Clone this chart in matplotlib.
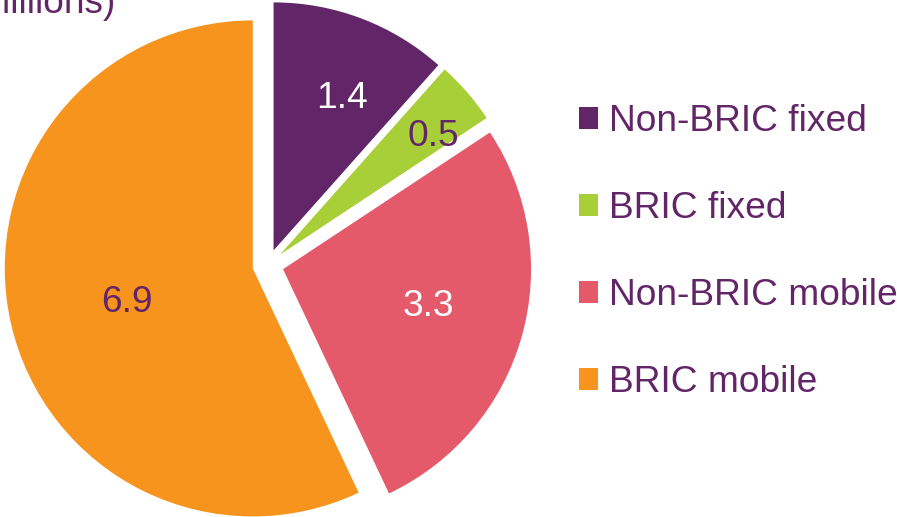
import matplotlib
matplotlib.use("Agg")
import matplotlib.pyplot as plt
import numpy as np

categories = ["Non-BRIC fixed", "BRIC fixed", "Non-BRIC mobile", "BRIC mobile"]
values = [1.4, 0.5, 3.3, 6.9]
value_labels = ["1.4", "0.5", "3.3", "6.9"]
colors = ["#622567", "#A8CE38", "#E55A6A", "#F7941D"]
label_colors = ["white", "#622567", "white", "#622567"]
title = "(millions)"

TXT = "#622567"
plt.rcParams["font.family"] = ["Liberation Sans", "DejaVu Sans"]

W, H = 897, 517
fig = plt.figure(figsize=(W / 100, H / 100), dpi=100)
ax = fig.add_axes([0, 0, 1, 1])
ax.set_axis_off()

R = 248.0
cx, cy = 268.0, 265.0
EXP = 0.063

wedges, texts = ax.pie(values, colors=colors, startangle=90, counterclock=False,
                       explode=[EXP] * 4, radius=1.0, center=(0, 0),
                       labels=value_labels, labeldistance=None,
                       wedgeprops=dict(linewidth=0))
ax.set_aspect("auto")
ax.set_xlim(-cx / R, (W - cx) / R)
ax.set_ylim(-(H - cy) / R, cy / R)

# value labels (radius from centre, angular nudge in degrees)
label_r = [0.735, 0.845, 0.67, 0.59]
label_da = [-3.0, -3.0, 1.0, 2.4]
ang = 90.0
total = sum(values)
for v, lab, lc, lr, da in zip(values, value_labels, label_colors, label_r, label_da):
    span = v / total * 360
    mid = np.deg2rad(ang - span / 2 + da)
    ang -= span
    ax.text(lr * np.cos(mid), lr * np.sin(mid), lab, ha="center", va="center",
            fontsize=26.7, color=lc)

fig.text(116 / W, 1 - 13 / H, title, ha="right", va="baseline", fontsize=26.7, color=TXT)

leg = fig.legend(wedges, categories, loc="center left",
                 bbox_to_anchor=(579 / W, 1 - 252 / H), frameon=False,
                 fontsize=26.7, handlelength=0.52, handleheight=0.52,
                 handletextpad=0.3, labelspacing=1.40, borderpad=0, borderaxespad=0)
for t in leg.get_texts():
    t.set_color(TXT)

fig.savefig("out.png", dpi=100)
